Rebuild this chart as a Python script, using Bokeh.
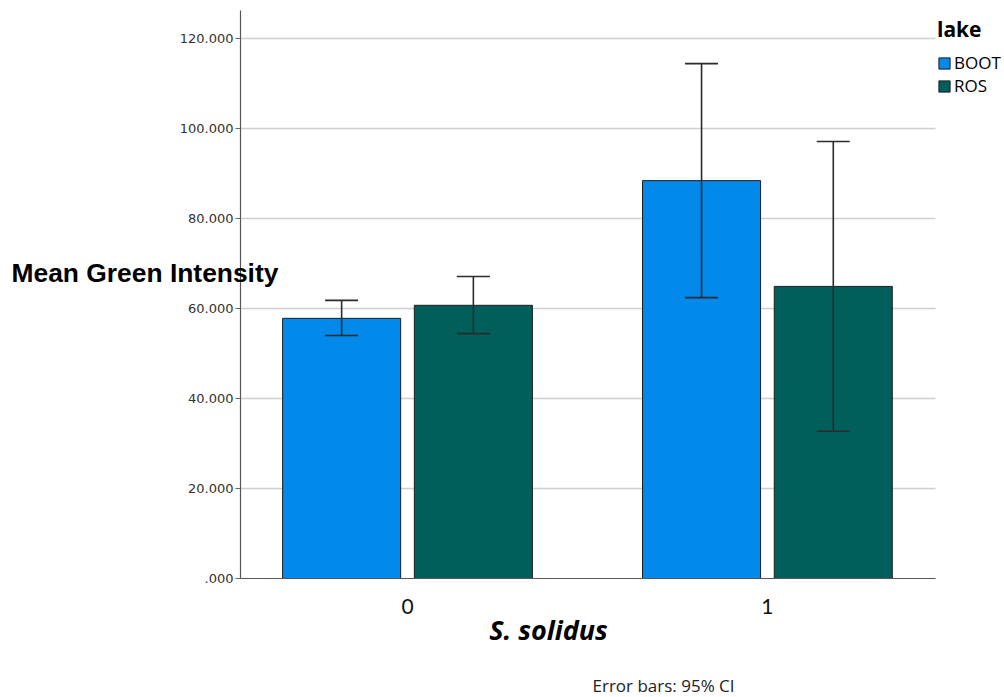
import numpy as np
from bokeh.plotting import figure
from bokeh.models import (Range1d, FixedTicker, Label, Legend, LegendItem,
                          ColumnDataSource, Whisker, TeeHead, LinearAxis)
from bokeh.embed import file_html
from bokeh.resources import INLINE

# ---- data ----
categories = ["0", "1"]
series = ["BOOT", "ROS"]
boot_mean = [57.8, 88.4]
boot_lo = [54.0, 62.4]
boot_hi = [61.8, 114.4]
ros_mean = [60.7, 64.9]
ros_lo = [54.4, 32.7]
ros_hi = [67.1, 97.1]
y_ticks = [0, 20, 40, 60, 80, 100, 120]
y_tick_labels = [".000", "20.000", "40.000", "60.000", "80.000", "100.000", "120.000"]
colors = ["#0389E9", "#005F5B"]

# ---- layout constants (pixels of the 1004x697 canvas) ----
CW, CH = 1004, 697
FL, FR, FT, FB = 240, 935, 10, 578          # plot area
X0, X1, Y0, Y1 = -0.464, 1.467, 0, 126.2    # plot area in data units
offset = 0.183
bar_w = 0.328
kx = (FR - FL) / (X1 - X0)
ky = (FB - FT) / (Y1 - Y0)
TXT_DY = 10   # empirical baseline correction for labels

p = figure(width=CW, height=CH, output_backend="svg", toolbar_location=None,
           title=None, x_axis_location=None, y_axis_location=None,
           x_range=Range1d(X0 - FL / kx, X1 + (CW - FR) / kx),
           y_range=Range1d(Y0 - (CH - FB) / ky, Y1 + FT / ky),
           min_border=0)
p.outline_line_color = None
p.background_fill_color = "white"
p.border_fill_color = "white"
p.grid.visible = False

# grid lines (limited to plot area)
grid_y = [t for t in y_ticks if t > 0]
p.segment(x0=[X0] * len(grid_y), x1=[X1] * len(grid_y), y0=grid_y, y1=grid_y,
          line_color="#cfcfcf", line_width=1.5)

xs = np.arange(len(categories))
renderers = []
for i, (name, mean, lo, hi) in enumerate([("BOOT", boot_mean, boot_lo, boot_hi),
                                          ("ROS", ros_mean, ros_lo, ros_hi)]):
    xpos = xs + (-offset if i == 0 else offset)
    src = ColumnDataSource(dict(x=xpos, top=mean, lo=lo, hi=hi))
    r = p.vbar(x="x", top="top", width=bar_w, source=src, fill_color=colors[i],
               line_color="#1e1e1e", line_width=1)
    renderers.append(r)
    w = Whisker(base="x", lower="lo", upper="hi", source=src, dimension="height",
                line_color="#2b2b2b", line_width=1.6, level="overlay",
                upper_head=TeeHead(size=33, line_color="#2b2b2b", line_width=1.6),
                lower_head=TeeHead(size=33, line_color="#2b2b2b", line_width=1.6))
    p.add_layout(w)

# axes
xaxis = LinearAxis(fixed_location=Y0, bounds=(X0, X1))
xaxis.ticker = FixedTicker(ticks=list(xs))
xaxis.major_label_overrides = {int(k): c for k, c in zip(xs, categories)}
xaxis.major_tick_line_color = None
xaxis.minor_tick_line_color = None
xaxis.axis_line_color = "#555555"
xaxis.axis_line_width = 1.2
xaxis.major_label_text_font = "Lato"
xaxis.major_label_text_font_size = "21px"
xaxis.major_label_text_color = "#111111"
xaxis.major_label_standoff = 14
p.add_layout(xaxis, "below")

yaxis = LinearAxis(fixed_location=X0, bounds=(Y0, Y1))
yaxis.ticker = FixedTicker(ticks=y_ticks)
yaxis.major_label_overrides = dict(zip(y_ticks, y_tick_labels))
yaxis.minor_tick_line_color = None
yaxis.major_tick_out = 5
yaxis.major_tick_in = 0
yaxis.major_tick_line_color = "#666666"
yaxis.axis_line_color = "#555555"
yaxis.axis_line_width = 1.2
yaxis.major_label_text_font = "DejaVu Sans"
yaxis.major_label_text_font_size = "13px"
yaxis.major_label_text_color = "#333333"
yaxis.major_label_standoff = 2
p.add_layout(yaxis, "left")

# texts (screen units: from the canvas left and bottom)
p.add_layout(Label(x=11, y=CH - 282 + TXT_DY, x_units="screen", y_units="screen",
                   text="Mean Green Intensity", text_font="Liberation Sans",
                   text_font_style="bold", text_font_size="26.4px",
                   text_baseline="alphabetic", text_color="#000000", level="overlay"))
p.add_layout(Label(x=548, y=CH - 639 + TXT_DY, x_units="screen", y_units="screen",
                   text="S. solidus", text_font="Open Sans",
                   text_font_style="bold italic", text_font_size="27px",
                   text_align="center", text_baseline="alphabetic", text_color="#000000"))
p.add_layout(Label(x=592, y=CH - 695 + TXT_DY, x_units="screen", y_units="screen",
                   text="Error bars: 95% CI", text_font="Open Sans",
                   text_font_size="17px", text_baseline="alphabetic", text_color="#222222"))

legend = Legend(items=[LegendItem(label=s, renderers=[r]) for s, r in zip(series, renderers)],
                title="lake", title_text_font="Open Sans", title_text_font_style="bold",
                title_text_font_size="21px", title_text_color="#000000", title_standoff=8,
                label_text_font="Open Sans", label_text_font_size="17px",
                label_text_color="#000000", label_height=18,
                label_standoff=3, glyph_width=14, glyph_height=14, spacing=0,
                padding=6, margin=0, border_line_color=None,
                background_fill_alpha=0, location=(937, CH - 16 - 88 + 7))
p.add_layout(legend)

open("out.html", "w").write(file_html(p, INLINE))
